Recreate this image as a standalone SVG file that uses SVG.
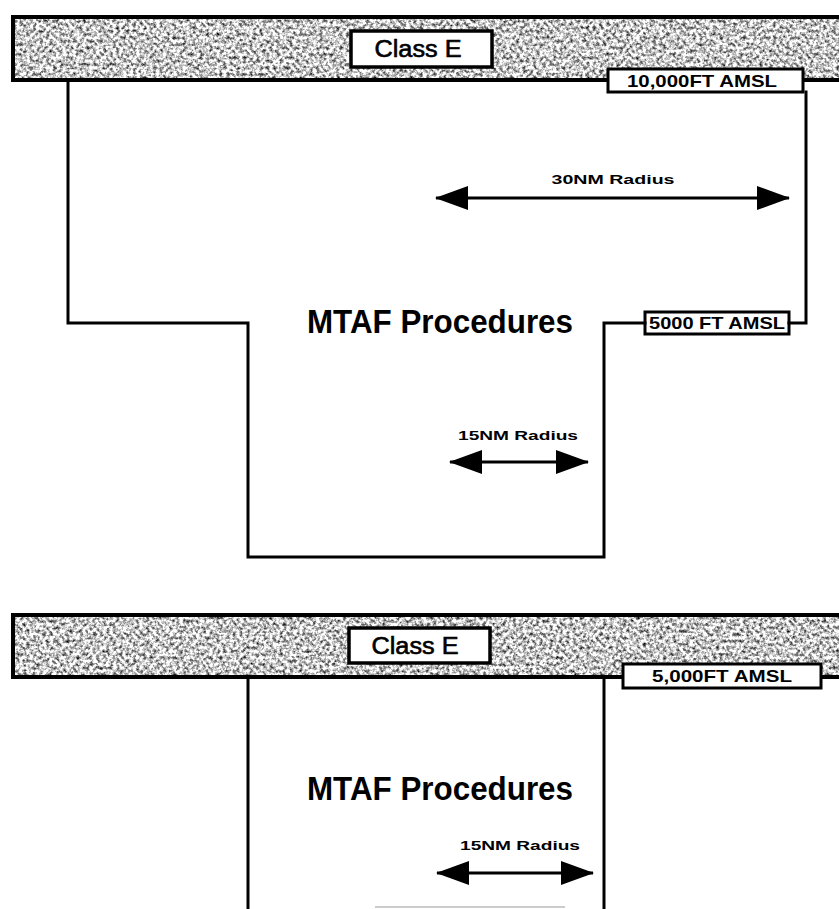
<svg xmlns="http://www.w3.org/2000/svg" width="839" height="909" viewBox="0 0 839 909">
<style>
.ln{fill:none;stroke:#000;stroke-width:3;stroke-linecap:square}
.arw{fill:none;stroke:#000;stroke-width:3}
.band{stroke:#000;stroke-width:4}
.box{fill:#fff;stroke:#000;stroke-width:3.5}
.lbl{fill:#fff;stroke:#000;stroke-width:3}
.cls{font-family:"Liberation Sans",Arial,sans-serif;font-size:23px;fill:#000;stroke:#000;stroke-width:0.6;text-anchor:middle}
.alt{font-family:"Liberation Sans",Arial,sans-serif;font-size:17px;font-weight:bold;fill:#000;text-anchor:middle}
.big{font-family:"Liberation Sans",Arial,sans-serif;font-size:33px;font-weight:bold;fill:#000}
.rad{font-family:"Liberation Sans",Arial,sans-serif;font-size:12px;font-weight:bold;fill:#000;text-anchor:middle}
</style>
<defs>
<filter id="tex" x="0" y="0" width="100%" height="100%" color-interpolation-filters="sRGB">
<feTurbulence type="fractalNoise" baseFrequency="0.3" numOctaves="4" seed="7" result="n"/>
<feColorMatrix in="n" type="matrix" values="1.9 0 0 0 -0.17  1.9 0 0 0 -0.17  1.9 0 0 0 -0.17  0 0 0 0 1" result="g"/>
<feComposite in="g" in2="SourceGraphic" operator="in"/>
</filter>
<marker id="ah" viewBox="0 0 33 24" refX="32" refY="12" markerWidth="33" markerHeight="24" markerUnits="userSpaceOnUse" orient="auto-start-reverse">
<path d="M0,0 L33,12 L0,24 Z" fill="#000"/>
</marker>
</defs>
<rect width="839" height="909" fill="#fff"/>

<!-- Top diagram -->
<g id="band-top">
<rect x="13" y="17" width="840" height="63" fill="#bbb" filter="url(#tex)"/>
<rect class="band" x="13" y="17" width="840" height="63" fill="none"/>
</g>
<g id="classE-top">
<rect class="box" x="351" y="31" width="141" height="36"/>
<text class="cls" x="418" y="57" textLength="87" lengthAdjust="spacingAndGlyphs">Class E</text>
</g>
<g id="alt-10000">
<rect class="lbl" x="608" y="69" width="195" height="23"/>
<text class="alt" x="702" y="87" textLength="150" lengthAdjust="spacingAndGlyphs">10,000FT AMSL</text>
</g>
<g id="alt-5000-top">
<rect class="lbl" x="645" y="312" width="144" height="22"/>
<text class="alt" x="717" y="329" textLength="136" lengthAdjust="spacingAndGlyphs">5000 FT AMSL</text>
</g>
<g id="mtaf-top">
<text class="big" x="307" y="333" textLength="266" lengthAdjust="spacingAndGlyphs">MTAF Procedures</text>
</g>
<g id="r30-label">
<text class="rad" x="613" y="184" textLength="123" lengthAdjust="spacingAndGlyphs">30NM Radius</text>
</g>
<g id="r15-label-top">
<text class="rad" x="518" y="440" textLength="120" lengthAdjust="spacingAndGlyphs">15NM Radius</text>
</g>

<!-- Bottom diagram -->
<g id="band-bottom">
<rect x="13" y="615" width="840" height="62" fill="#bbb" filter="url(#tex)"/>
<rect class="band" x="13" y="615" width="840" height="62" fill="none"/>
</g>
<g id="classE-bottom">
<rect class="box" x="349" y="628" width="141" height="35"/>
<text class="cls" x="415" y="654" textLength="87" lengthAdjust="spacingAndGlyphs">Class E</text>
</g>
<g id="alt-5000-bottom">
<rect class="lbl" x="623" y="664" width="198" height="24"/>
<text class="alt" x="722" y="682" textLength="140" lengthAdjust="spacingAndGlyphs">5,000FT AMSL</text>
</g>
<g id="mtaf-bottom">
<text class="big" x="307" y="800" textLength="266" lengthAdjust="spacingAndGlyphs">MTAF Procedures</text>
</g>
<g id="r15-label-bottom">
<text class="rad" x="520" y="850" textLength="120" lengthAdjust="spacingAndGlyphs">15NM Radius</text>
</g>

<g id="connectors">
<path class="ln" d="M68,82 V323 H248 V557 H604 V323 H645"/>
<path class="ln" d="M789,323 H806 V92"/>
<path class="ln" d="M248,679 V909"/>
<path class="ln" d="M604,679 V909"/>
<line class="arw" x1="436" y1="198" x2="789" y2="198" marker-start="url(#ah)" marker-end="url(#ah)"/>
<line class="arw" x1="450" y1="462" x2="588" y2="462" marker-start="url(#ah)" marker-end="url(#ah)"/>
<line class="arw" x1="437" y1="873" x2="593" y2="873" marker-start="url(#ah)" marker-end="url(#ah)"/>
<line x1="375" y1="907" x2="565" y2="907" stroke="#ccc" stroke-width="2"/>
</g>
</svg>
